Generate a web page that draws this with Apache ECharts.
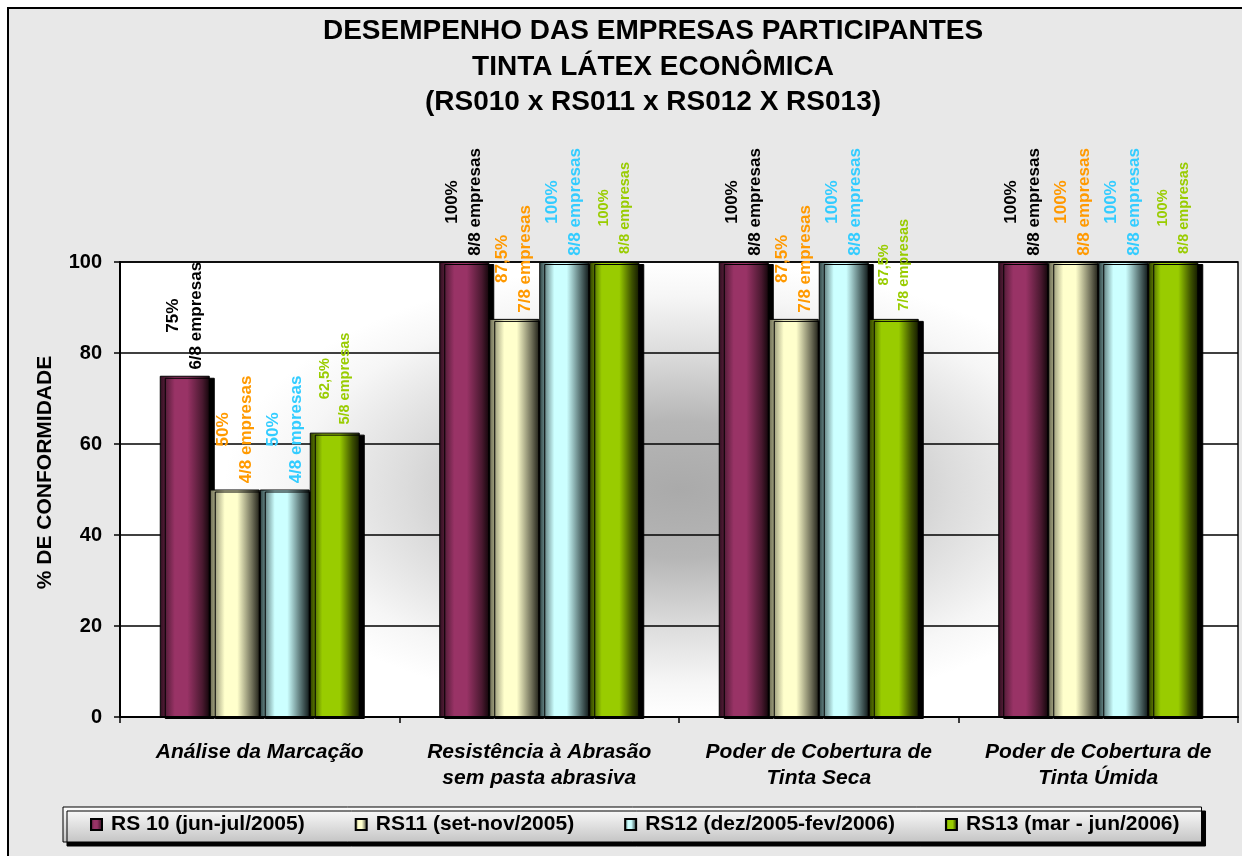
<!DOCTYPE html>
<html>
<head>
<meta charset="utf-8">
<script src="https://cdn.jsdelivr.net/npm/echarts@6/dist/echarts.min.js"></script>
<style>
html,body{margin:0;padding:0;background:#fff;}
#chart{width:1242px;height:856px;}
</style>
</head>
<body>
<div id="chart"></div>
<script>
const titleLines = ['DESEMPENHO DAS EMPRESAS PARTICIPANTES', 'TINTA LÁTEX ECONÔMICA', '(RS010 x RS011 x RS012 X RS013)'];
const categories = ['Análise da Marcação', 'Resistência à Abrasão\nsem pasta abrasiva', 'Poder de Cobertura de\nTinta Seca', 'Poder de Cobertura de\nTinta Úmida'];
const seriesNames = ['RS 10 (jun-jul/2005)', 'RS11 (set-nov/2005)', 'RS12 (dez/2005-fev/2006)', 'RS13 (mar - jun/2006)'];
const rs10 = [75, 100, 100, 100];
const rs11 = [50, 87.5, 87.5, 100];
const rs12 = [50, 100, 100, 100];
const rs13 = [62.5, 100, 87.5, 100];
const totalEmpresas = 8;
const yTicks = [0, 20, 40, 60, 80, 100];
const yAxisName = '% DE CONFORMIDADE';

const FONT = 'Liberation Sans, Arial, sans-serif';
const W = 1242, H = 856;
const G = {left: 120, right: 4, top: 262, bottom: 139};
const plotW = W - G.left - G.right, plotH = H - G.top - G.bottom;

function grad(stops) {
  return {type: 'linear', x: 0, y: 0, x2: 1, y2: 0,
    colorStops: stops.map(s => ({offset: s[0], color: s[1]}))};
}
const barFills = [
  grad([[0, '#2e0f1e'], [0.3, '#993366'], [0.55, '#993366'], [0.85, '#4a1930'], [1, '#120509']]),
  grad([[0, '#6a6a52'], [0.3, '#ffffcc'], [0.55, '#ffffcc'], [0.85, '#6e6e58'], [1, '#202018']]),
  grad([[0, '#2c4040'], [0.3, '#ccffff'], [0.55, '#ccffff'], [0.85, '#4c6464'], [1, '#101818']]),
  grad([[0, '#2c3a00'], [0.25, '#99cc00'], [0.6, '#99cc00'], [0.85, '#3e5200'], [1, '#141a00']])
];
const labelColors = ['#000000', '#ff9900', '#33ccff', '#99cc00'];
const labelSizes = [17, 17, 17, 14.5];
const labelDist = [60, 60, 60, 54];

function fmtPct(v) { return String(v).replace('.', ',') + '%'; }

const dataSets = [rs10, rs11, rs12, rs13];
const series = dataSets.map((d, i) => ({
  name: seriesNames[i],
  type: 'bar',
  data: d,
  barWidth: 50,
  barGap: '0%',
  itemStyle: {
    color: barFills[i],
    borderColor: '#000',
    borderWidth: 1,
    shadowColor: '#000',
    shadowBlur: 0,
    shadowOffsetX: 5,
    shadowOffsetY: 2
  },
  label: {
    show: true,
    position: 'top',
    rotate: 90,
    align: 'center',
    verticalAlign: 'middle',
    distance: labelDist[i],
    fontFamily: FONT,
    fontWeight: 'bold',
    fontSize: labelSizes[i],
    lineHeight: labelSizes[i] + 6,
    color: labelColors[i],
    formatter: p => fmtPct(p.value) + '\n' + Math.round(p.value * totalEmpresas / 100) + '/' + totalEmpresas + ' empresas'
  },
  emphasis: {disabled: true}
}));

const chart = echarts.init(document.getElementById('chart'), null, {renderer: 'canvas'});
chart.setOption({
  backgroundColor: '#ffffff',
  animation: false,
  graphic: [
    {type: 'rect', z: -100, silent: true,
      shape: {x: 8, y: 8, width: 1300, height: 900},
      style: {fill: '#e8e8e8', stroke: '#000', lineWidth: 2}},
    {type: 'rect', z: -90, silent: true,
      shape: {x: G.left, y: G.top, width: plotW, height: plotH},
      style: {fill: '#ffffff'}},
    {type: 'circle', z: -80, silent: true,
      x: G.left + plotW * 0.5, y: G.top + plotH * 0.5, scaleX: 2.0, scaleY: 1,
      shape: {cx: 0, cy: 0, r: plotH / 2},
      style: {fill: {type: 'radial', x: 0.5, y: 0.5, r: 0.5,
        colorStops: [{offset: 0, color: '#aaaaaa'}, {offset: 0.3, color: '#b6b6b6'}, {offset: 0.6, color: '#dcdcdc'}, {offset: 0.85, color: '#f6f6f6'}, {offset: 1, color: '#ffffff'}]}}}
  ],
  title: {
    text: titleLines.join('\n'),
    left: 648, top: 9, textAlign: 'center',
    textStyle: {fontFamily: FONT, fontWeight: 'bold', fontSize: 28, lineHeight: 35.5, color: '#000'}
  },
  legend: {
    left: 63, top: 807,
    padding: [7, 22, 7, 27],
    itemGap: 50,
    itemWidth: 11, itemHeight: 11,
    icon: 'rect',
    backgroundColor: {type: 'linear', x: 0, y: 0, x2: 0, y2: 1,
      colorStops: [{offset: 0, color: '#ffffff'}, {offset: 1, color: '#c4c4c4'}]},
    borderColor: '#000', borderWidth: 1,
    shadowColor: '#000', shadowBlur: 0, shadowOffsetX: 4, shadowOffsetY: 4,
    textStyle: {fontFamily: FONT, fontWeight: 'bold', fontSize: 21, color: '#000', padding: [0, 0, 0, 4]},
    data: seriesNames
  },
  grid: {
    left: G.left, right: G.right, top: G.top, bottom: G.bottom,
    show: true,
    borderColor: '#000', borderWidth: 1.5,
    backgroundColor: 'transparent'
  },
  xAxis: {
    type: 'category',
    data: categories,
    axisLine: {lineStyle: {color: '#000', width: 2}},
    axisTick: {show: true, length: 6, lineStyle: {color: '#000', width: 1.5}},
    axisLabel: {interval: 0, margin: 22, fontFamily: FONT, fontWeight: 'bold', fontStyle: 'italic', fontSize: 21, lineHeight: 26, color: '#000'}
  },
  yAxis: {
    type: 'value',
    min: yTicks[0], max: yTicks[yTicks.length - 1], interval: 20,
    name: yAxisName,
    nameLocation: 'middle', nameRotate: 90, nameGap: 64,
    nameTextStyle: {fontFamily: FONT, fontWeight: 'bold', fontSize: 21, color: '#000', padding: [0, 0, 0, 34]},
    axisLine: {show: true, lineStyle: {color: '#000', width: 2}},
    axisTick: {show: true, length: 6, lineStyle: {color: '#000', width: 1.5}},
    axisLabel: {margin: 18, fontFamily: FONT, fontWeight: 'bold', fontSize: 20, color: '#000'},
    splitLine: {show: true, lineStyle: {color: '#000', width: 1.5}}
  },
  series: series
});
</script>
</body>
</html>
